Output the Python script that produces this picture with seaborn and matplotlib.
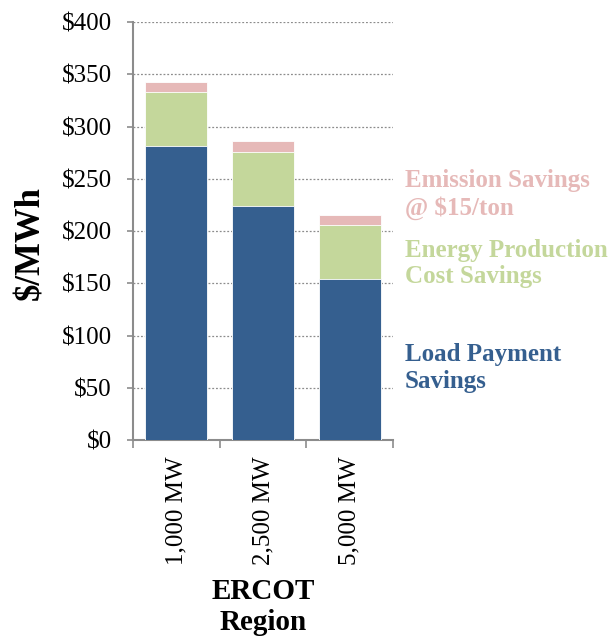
import pandas as pd
import numpy as np
import matplotlib.pyplot as plt
import seaborn as sns

# values ($/MWh)
regions = ['1,000 MW', '2,500 MW', '5,000 MW']
load_payment = [281, 224, 154]
energy_cost = [52, 52, 52]
emission = [9.5, 10, 9.5]

blue = '#355F8F'
green = '#C4D79B'
pink = '#E6B9B8'

sns.set_theme(style='white')
plt.rcParams['font.family'] = ['Liberation Serif', 'DejaVu Serif']
plt.rcParams['text.color'] = 'black'
plt.rcParams['axes.labelcolor'] = 'black'

df = pd.DataFrame({'Region': regions, 'Load': load_payment,
                   'Energy': energy_cost, 'Emission': emission})
df['LoadEnergy'] = df['Load'] + df['Energy']
df['Total'] = df['LoadEnergy'] + df['Emission']

fig = plt.figure(figsize=(6.08, 6.38), dpi=100)
ax = fig.add_axes([0.2188, 0.3103, 0.4276, 0.6552])

# stacked bars drawn from the top layer down
for col, c in [('Total', pink), ('LoadEnergy', green), ('Load', blue)]:
    sns.barplot(data=df, x='Region', y=col, color=c, width=0.713, ax=ax,
                edgecolor='white', linewidth=0.6, saturation=1, zorder=3)

ax.set_xlim(-0.5, 2.5)
ax.set_ylim(0, 400)
yt = np.arange(0, 401, 50)
ax.set_yticks(yt)
ax.set_yticklabels([f'${v}' for v in yt], fontsize=18)
ax.yaxis.grid(True, linestyle=(0, (1.5, 1.5)), color='#8c8c8c', linewidth=0.9, zorder=0)
ax.xaxis.grid(False)

# Excel-style category ticks sit between the bars
ax.set_xticks([-0.5, 0.5, 1.5, 2.5], minor=True)
ax.set_xticks([0, 1, 2])
ax.set_xticklabels(regions, rotation=90, fontsize=18)
ax.tick_params(axis='x', which='major', length=0, pad=12, labelcolor='black')
ax.tick_params(axis='x', which='minor', length=6, color='#8c8c8c', width=1.2, direction='out', bottom=True)
ax.tick_params(axis='y', length=4.5, color='#8c8c8c', width=1.2, direction='out', left=True, pad=11,
               labelcolor='black')

for s in ['top', 'right']:
    ax.spines[s].set_visible(False)
for s in ['left', 'bottom']:
    ax.spines[s].set_color('#8c8c8c')
    ax.spines[s].set_linewidth(1.5)

ax.set_ylabel('$/MWh', fontsize=25, fontweight='bold')
ax.yaxis.set_label_coords(-0.33, 0.47)
ax.set_xlabel('ERCOT\nRegion', fontsize=21, fontweight='bold', labelpad=9, linespacing=1.2)

# labels at the right instead of a legend
lab_x = 2.638
ax.text(lab_x, 235, 'Emission Savings\n@ $15/ton', color=pink, fontsize=18,
        fontweight='bold', ha='left', va='center', linespacing=1.2, clip_on=False)
ax.text(lab_x, 169, 'Energy Production\nCost Savings', color=green, fontsize=18,
        fontweight='bold', ha='left', va='center', linespacing=1.2, clip_on=False)
ax.text(lab_x, 69, 'Load Payment\nSavings', color=blue, fontsize=18,
        fontweight='bold', ha='left', va='center', linespacing=1.2, clip_on=False)

plt.savefig('out.png', dpi=100)
